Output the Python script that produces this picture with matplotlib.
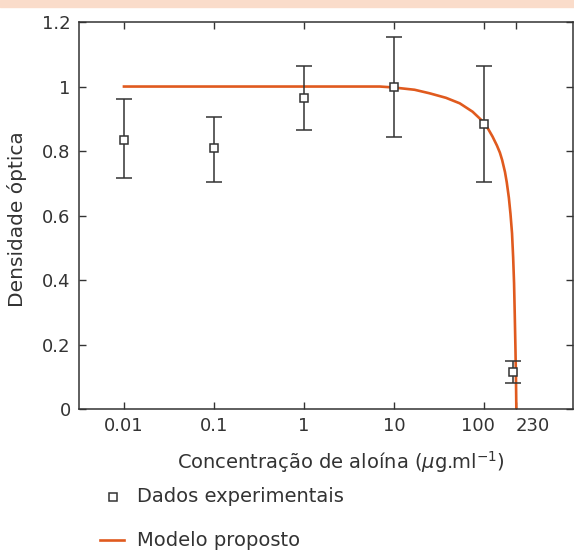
import numpy as np
import matplotlib
matplotlib.use("Agg")
import matplotlib.pyplot as plt
from matplotlib.lines import Line2D
from matplotlib.patches import Rectangle
from matplotlib.transforms import ScaledTranslation

plt.rcParams['font.family'] = ['DejaVu Sans']
plt.rcParams['mathtext.fontset'] = 'dejavusans'

# dados experimentais
conc = [0.01, 0.1, 1, 10, 100, 210]
dens = [0.835, 0.81, 0.965, 1.0, 0.885, 0.115]
err_lo = [0.12, 0.105, 0.10, 0.155, 0.18, 0.035]
err_hi = [0.125, 0.095, 0.10, 0.155, 0.18, 0.035]

# modelo proposto
mod_x = [0.01, 0.1, 1, 3, 7, 10, 17, 25, 38, 54, 75, 100, 110, 125, 140, 151, 160,
         172, 180, 190, 198, 206, 212, 217, 221, 225, 228, 230]
mod_y = [1.0, 1.0, 1.0, 1.0, 1.0, 0.997, 0.99, 0.979, 0.965, 0.948, 0.922, 0.889,
         0.872, 0.845, 0.817, 0.795, 0.772, 0.735, 0.703, 0.655, 0.605, 0.545, 0.47,
         0.39, 0.29, 0.183, 0.09, 0.0]

xticks = [0.01, 0.1, 1, 10, 100, 230]
xlabels = ['0.01', '0.1', '1', '10', '100', '230']
yticks = [0, 0.2, 0.4, 0.6, 0.8, 1, 1.2]
ylabels = ['0', '0.2', '0.4', '0.6', '0.8', '1', '1.2']

orange = '#e05a1e'
dark = '#333333'

fig = plt.figure(figsize=(5.74, 5.51), dpi=100)
fig.patches.append(Rectangle((0, 1 - 7/551), 1, 7/551, transform=fig.transFigure,
                             color='#fadcca', zorder=0))
ax = fig.add_axes([0.1376, 0.2577, 0.8604, 0.7023])

ax.plot(mod_x, mod_y, color=orange, lw=1.9, zorder=2)
ax.errorbar(conc, dens, yerr=[err_lo, err_hi], fmt='s', color=dark, ecolor=dark,
            mfc='white', mec=dark, ms=6, mew=1.1, elinewidth=1.1, capsize=6,
            capthick=1.1, zorder=3)

ax.set_xscale('log')
ax.set_xlim(10**-2.5, 10**2.99)
ax.set_ylim(0, 1.2)
ax.set_xticks(xticks)
ax.set_xticklabels(xlabels)
ax.minorticks_off()
ax.set_yticks(yticks)
ax.set_yticklabels(ylabels)
ax.tick_params(direction='in', top=True, right=True, length=5, width=1,
               labelsize=13, colors=dark, pad=6)
for s in ax.spines.values():
    s.set_color(dark)
    s.set_linewidth(1.1)

# afastar os rotulos 100 e 230
labs = ax.get_xticklabels()
labs[4].set_transform(labs[4].get_transform() + ScaledTranslation(-6/100, 0, fig.dpi_scale_trans))
labs[5].set_transform(labs[5].get_transform() + ScaledTranslation(16/100, 0, fig.dpi_scale_trans))

ax.set_xlabel('Concentração de aloína ($\\mu$g.ml$^{\\mathregular{-1}}$)', fontsize=14,
              color=dark)
ax.xaxis.set_label_coords(0.53, -0.104)
ax.set_ylabel('Densidade óptica', fontsize=14.5, color=dark)
ax.yaxis.set_label_coords(-0.106, 0.49)

# legenda
fig.add_artist(Line2D([113/574], [1 - 497/551], marker='s', ms=6, mfc='white',
                      mec=dark, mew=1.1, transform=fig.transFigure))
fig.text(137/574, 1 - 497/551, 'Dados experimentais', fontsize=14, color=dark,
         va='center')
fig.add_artist(Line2D([100/574, 124/574], [1 - 540/551, 1 - 540/551], color=orange,
                      lw=1.9, transform=fig.transFigure))
fig.text(137/574, 1 - 541/551, 'Modelo proposto', fontsize=14, color=dark,
         va='center')

fig.savefig('out.png', dpi=100)
